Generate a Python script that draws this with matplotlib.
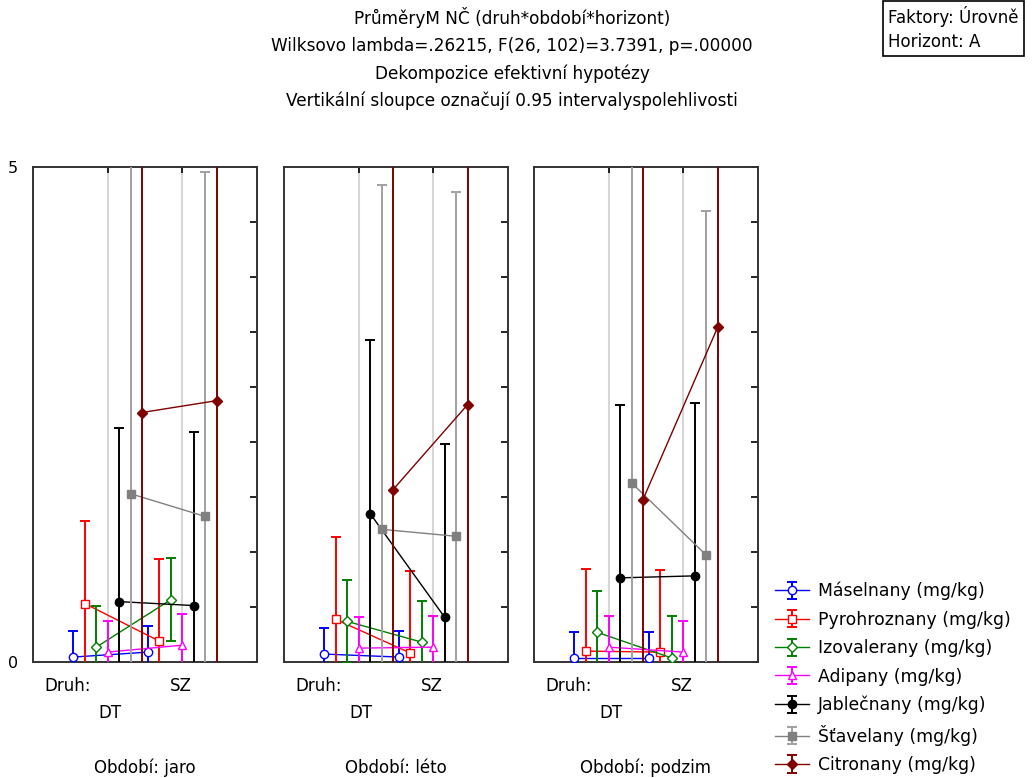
import numpy as np
import matplotlib
matplotlib.use("Agg")
import matplotlib.pyplot as plt

plt.rcParams['font.family'] = ['DejaVu Sans']

# obdobi (panely) a druhy (kategorie na ose x)
obdobi = ["jaro", "léto", "podzim"]
druhy = ["DT", "SZ"]

serie = ["Máselnany (mg/kg)", "Pyrohroznany (mg/kg)", "Izovalerany (mg/kg)",
         "Adipany (mg/kg)", "Jablečnany (mg/kg)", "Šťavelany (mg/kg)",
         "Citronany (mg/kg)"]

# prumery: [obdobi][DT, SZ]
maselnany = [[0.05, 0.10], [0.08, 0.05], [0.04, 0.04]]
pyrohroznany = [[0.59, 0.21], [0.43, 0.09], [0.11, 0.10]]
izovalerany = [[0.15, 0.63], [0.41, 0.20], [0.30, 0.04]]
adipany = [[0.10, 0.17], [0.14, 0.15], [0.15, 0.10]]
jablecnany = [[0.61, 0.57], [1.50, 0.45], [0.85, 0.87]]
stavelany = [[1.70, 1.47], [1.34, 1.27], [1.81, 1.08]]
citronany = [[2.52, 2.64], [1.74, 2.60], [1.64, 3.38]]

# polovina 0.95 intervalu spolehlivosti (stejna pro vsechny skupiny)
ci = [0.26, 0.83, 0.42, 0.31, 1.75, 3.48, 6.0]

prumery = [maselnany, pyrohroznany, izovalerany, adipany,
           jablecnany, stavelany, citronany]

barvy = ["#0000ff", "#ff0000", "#008000", "#ff00ff", "#000000", "#808080", "#800000"]
ebarvy = ["#0000ff", "#ff0000", "#008000", "#ff00ff", "#000000", "#a0a0a0", "#800000"]
znacky = ["o", "s", "D", "^", "o", "s", "D"]
vypln = ["white", "white", "white", "white", "#000000", "#808080", "#800000"]

fig = plt.figure(figsize=(10.35, 7.78), dpi=100)

W, H = 1035, 778
lefts = [33, 284, 534]
sirka = 224
top_px, bottom_px = 167, 662

yticks = np.linspace(0, 5, 10)
posun = 0.153  # posun serii kolem kategorie

handles = []
for p in range(3):
    ax = fig.add_axes([lefts[p] / W, (H - bottom_px) / H, sirka / W, (bottom_px - top_px) / H])
    ax.set_xlim(0, 3)
    ax.set_ylim(0, 5)
    ax.axvline(1, color="#d6d6d6", lw=1.5, zorder=0)
    ax.axvline(2, color="#d6d6d6", lw=1.5, zorder=0)
    for i in range(len(serie)):
        x = np.array([1, 2]) + (i - 3) * posun
        y = prumery[i][p]
        h = ax.errorbar(x, y, yerr=ci[i], color=barvy[i], ecolor=ebarvy[i],
                        marker=znacky[i], mfc=vypln[i], mec=barvy[i], ms=6 if znacky[i] != "D" else 5.5,
                        lw=1, elinewidth=1.4, capsize=3.5, capthick=1.4,
                        label=serie[i], zorder=3 + i)
        if p == 0:
            handles.append(h)
    for s in ax.spines.values():
        s.set_linewidth(1.4)
        s.set_color("#333333")
    ax.set_xticks([1, 2])
    ax.set_xticklabels([])
    ax.tick_params(axis="x", direction="in", top=True, bottom=True, length=4, width=1.2)
    ax.set_yticks(yticks)
    if p == 0:
        ax.set_yticklabels(["0"] + [""] * 8 + ["5"], fontsize=11.5)
    else:
        ax.set_yticklabels([])
    ax.tick_params(axis="y", direction="in", left=False, right=True, length=5, width=1.2, pad=11)

    tr = ax.get_xaxis_transform()
    ax.text(0.47, -0.049, "Druh:", transform=tr, ha="center", va="center", fontsize=12)
    ax.text(1.98, -0.049, druhy[1], transform=tr, ha="center", va="center", fontsize=12)
    ax.text(1.03, -0.103, druhy[0], transform=tr, ha="center", va="center", fontsize=12)
    ax.text(0.5, -0.214, "Období: " + obdobi[p], transform=ax.transAxes,
            ha="center", va="center", fontsize=12)

# titulky
titulky = ["PrůměryM NČ (druh*období*horizont)",
           "Wilksovo lambda=.26215, F(26, 102)=3.7391, p=.00000",
           "Dekompozice efektivní hypotézy",
           "Vertikální sloupce označují 0.95 intervalyspolehlivosti"]
for k, t in enumerate(titulky):
    fig.text(512 / W, 1 - (18 + k * 27.7) / H, t, ha="center", va="center", fontsize=12.2)

fig.text(888 / W, 1 - 6 / H, "Faktory: Úrovně\nHorizont: A", ha="left", va="top",
         fontsize=12, linespacing=1.4,
         bbox=dict(boxstyle="square,pad=0.3", fc="white", ec="black", lw=1.2))

fig.legend(handles=handles, labels=serie, loc="upper left",
           bbox_to_anchor=(775 / W, 1 - 582 / H), frameon=False, fontsize=12.4,
           borderpad=0, borderaxespad=0, handlelength=2.0, handletextpad=0.5,
           labelspacing=0.6)

fig.savefig("out.png", dpi=100)
